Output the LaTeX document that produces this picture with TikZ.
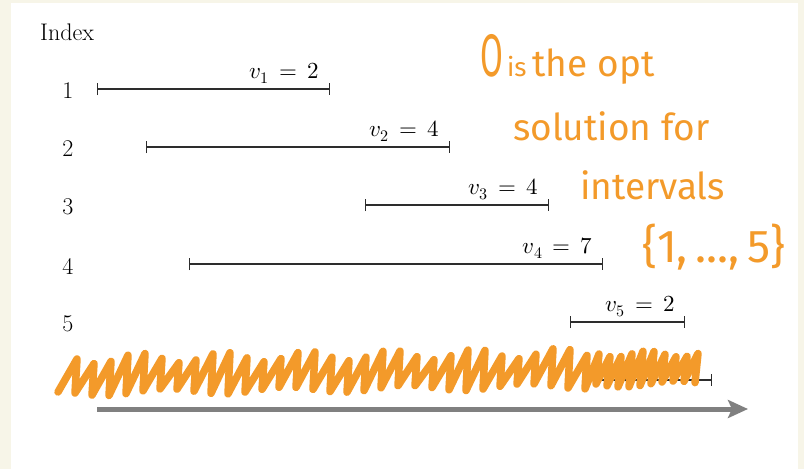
\documentclass[tikz,border=0pt]{standalone}
\usepackage{fontspec}
\usepackage{unicode-math}
\setmathfont{Latin Modern Math}
\newfontfamily\handfont{Fira Sans}
\usetikzlibrary{arrows.meta}
\definecolor{bgcream}{RGB}{247,245,232}
\definecolor{scrib}{RGB}{243,154,42}
\definecolor{axisgray}{RGB}{128,128,128}
\definecolor{ink}{RGB}{45,45,45}
\begin{document}
\begin{tikzpicture}[x=1pt,y=-1pt,
  interval/.style={draw=ink, line width=1.1pt, {Bar[width=12pt]}-{Bar[width=12pt]}},
  halfinterval/.style={draw=ink, line width=1.1pt, -{Bar[width=12pt]}},
  vlabel/.style={anchor=base east, inner sep=0pt, font=\fontsize{23}{27}\selectfont},
  rowlabel/.style={inner sep=0pt, font=\fontsize{24}{28}\selectfont},
  hand/.style={text=scrib, inner sep=0pt, anchor=base west, font=\handfont\fontsize{37}{40}\selectfont},
  scribble/.style={draw=scrib, line width=7.5pt, line join=round, line cap=round},
  axis/.style={draw=axisgray, line width=5pt, -{Stealth[length=20pt,width=18pt,inset=4pt]}}
]
\fill[bgcream] (0,0) rectangle (804,469);
\fill[white] (11,3) rectangle (798,469);
\useasboundingbox (0,0) rectangle (804,469);

\node[rowlabel, anchor=base west] (idx) at (40,40) {Index};
\foreach \i/\y in {1/91,2/149,3/207,4/266,5/324}{
  \node[rowlabel] (r\i) at (68,\y) {\i};
}

% intervals
\coordinate (a1) at (97,89);  \coordinate (b1) at (330,89);
\coordinate (a2) at (146,147); \coordinate (b2) at (450,147);
\coordinate (a3) at (365,205); \coordinate (b3) at (549,205);
\coordinate (a4) at (189,264); \coordinate (b4) at (603,264);
\coordinate (a5) at (570,322); \coordinate (b5) at (685,322);
\coordinate (a6) at (600,380); \coordinate (b6) at (712,380);
\draw[interval] (a1) -- (b1);
\draw[interval] (a2) -- (b2);
\draw[interval] (a3) -- (b3);
\draw[interval] (a4) -- (b4);
\draw[interval] (a5) -- (b5);
\draw[halfinterval] (a6) -- (b6);

\node[vlabel] (l1) at (319,78) {$v_1\,=\,2$};
\node[vlabel] (l2) at (439,136) {$v_2\,=\,4$};
\node[vlabel] (l3) at (538,194) {$v_3\,=\,4$};
\node[vlabel] (l4) at (593,253) {$v_4\,=\,7$};
\node[vlabel] (l5) at (675,311) {$v_5\,=\,2$};

% scribble
\coordinate (s0) at (58,392);
\draw[scribble] (s0) \foreach \k in {0,...,30}{
  -- ({58+17*\k+19},{359+5*sin(\k*73)-0.012*17*\k})
  -- ({58+17*\k+17},{393+3*sin(\k*51)-0.014*17*\k}) }
  \foreach \k in {0,...,9}{
  -- ({585+11*\k+14},{354+3*sin(\k*61)})
  -- ({585+11*\k+11},{384+3*sin(\k*37)}) };

% axis
\coordinate (ax0) at (97,409); \coordinate (ax1) at (748,409);
\draw[axis] (ax0) -- (ax1);

% handwritten note
\node[hand] (h1) at (480,76) {\scalebox{0.55}[1]{\fontsize{60}{60}\selectfont O}\hspace{4pt}{\fontsize{26}{26}\selectfont is}\hspace{6pt}the opt};
\node[hand] (h2) at (513,140) {solution for};
\node[hand] (h3) at (580,199) {intervals};
\node[hand, font=\handfont\fontsize{46}{50}\selectfont] (h4) at (642,262) {\{1,\,...,\,5\}};
\end{tikzpicture}
\end{document}
